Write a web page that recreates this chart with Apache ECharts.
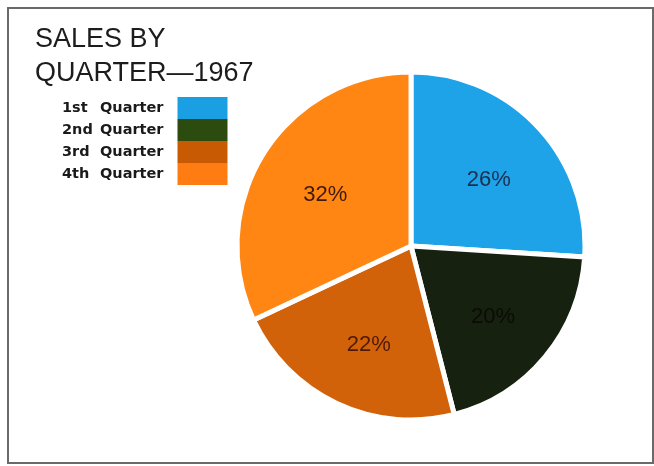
<!DOCTYPE html>
<html>
<head>
<meta charset="utf-8">
<title>Sales by Quarter — 1967</title>
<script src="https://cdn.jsdelivr.net/npm/echarts@6/dist/echarts.min.js"></script>
<style>
  html, body { margin: 0; padding: 0; background: #ffffff; }
  #chart { width: 654px; height: 466px; }
</style>
</head>
<body>
<div id="chart"></div>
<script>
// Quarterly share of 1967 sales, in percent
const quarters = ['1st Quarter', '2nd Quarter', '3rd Quarter', '4th Quarter'];
const shares = [26, 20, 22, 32];
const sliceColors = ['#1ea2e8', '#16210f', '#d2620a', '#ff8612'];
const keyColors = ['#1aa0e2', '#2c4b0e', '#c85a04', '#ff7c12'];
const labelColors = ['#1b2f4e', '#0b0c06', '#4e1a06', '#3e1a0a'];

const chart = echarts.init(document.getElementById('chart'), null, { renderer: 'canvas' });

const center = [411, 246];

chart.setOption({
  animation: false,
  backgroundColor: '#ffffff',
  title: {
    text: 'SALES BY\nQUARTER\u20141967',
    left: 35,
    top: 23,
    padding: 0,
    textStyle: {
      fontFamily: '"Liberation Sans", Arial, sans-serif',
      fontSize: 27,
      fontWeight: 'normal',
      lineHeight: 34,
      color: '#1c1c1c'
    }
  },
  legend: {
    orient: 'vertical',
    left: 62,
    top: 97,
    padding: 0,
    align: 'right',
    icon: 'rect',
    itemWidth: 50,
    itemHeight: 22,
    itemGap: 0,
    selectedMode: false,
    itemStyle: { borderWidth: 0 },
    data: quarters.map((q, i) => ({
      name: q,
      itemStyle: { color: keyColors[i], borderWidth: 0 }
    })),
    formatter: name => {
      const parts = name.split(' ');
      return '{n|' + parts[0] + '}{q|' + parts[1] + '}';
    },
    textStyle: {
      rich: {
        n: {
          width: 38,
          align: 'left',
          fontFamily: '"DejaVu Sans", sans-serif',
          fontWeight: 'bold',
          fontSize: 14.5,
          color: '#1a1a1a'
        },
        q: {
          align: 'left',
          fontFamily: '"DejaVu Sans", sans-serif',
          fontWeight: 'bold',
          fontSize: 14.5,
          color: '#1a1a1a',
          padding: [0, 9, 0, 0]
        }
      }
    }
  },
  graphic: [{
    type: 'rect',
    silent: true,
    shape: { x: 8, y: 8, width: 645, height: 455 },
    style: { fill: 'none', stroke: '#6a6a6a', lineWidth: 2 }
  }],
  series: [
    {
      name: 'Sales',
      type: 'pie',
      center: center,
      radius: [0, 174],
      startAngle: 90,
      clockwise: true,
      silent: true,
      label: { show: false },
      labelLine: { show: false },
      itemStyle: { borderColor: '#ffffff', borderWidth: 5 },
      data: quarters.map((q, i) => ({
        name: q,
        value: shares[i],
        itemStyle: { color: sliceColors[i] }
      }))
    },
    {
      // carries the percentage labels a little farther out than mid-radius
      name: 'Labels',
      type: 'pie',
      center: [413, 251],
      radius: [0, 202],
      startAngle: 90,
      clockwise: true,
      silent: true,
      z: 3,
      labelLine: { show: false },
      itemStyle: { color: 'rgba(0,0,0,0)', borderWidth: 0 },
      label: {
        show: true,
        position: 'inside',
        formatter: '{c}%',
        fontFamily: '"Liberation Sans", Arial, sans-serif',
        fontSize: 22,
        fontWeight: 'normal'
      },
      data: quarters.map((q, i) => ({
        name: q,
        value: shares[i],
        label: { color: labelColors[i] }
      }))
    }
  ]
});
</script>
</body>
</html>
